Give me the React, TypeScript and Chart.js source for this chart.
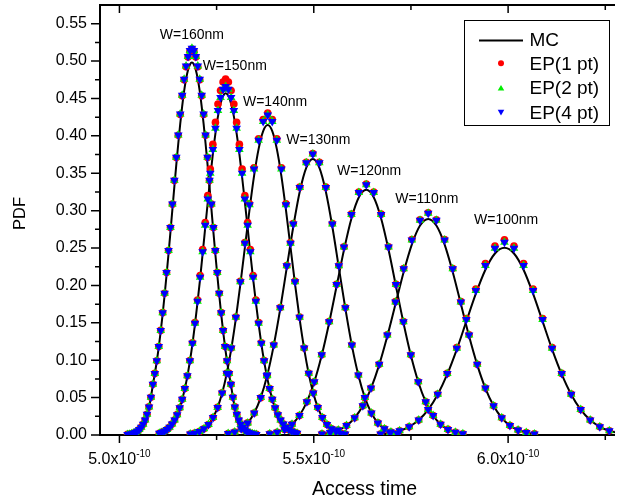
import React, { useEffect, useRef } from 'react';
import { Chart, registerables } from 'chart.js';

Chart.register(...registerables);

// Access time in units of 1e-10 s (axis ticks read 5.0x10^-10, 5.5x10^-10, 6.0x10^-10)
const w160Time = [5.0208, 5.0259, 5.0309, 5.0359, 5.0409, 5.0459, 5.0510, 5.0560, 5.0610, 5.0660, 5.0710, 5.0761, 5.0811, 5.0861, 5.0911, 5.0961, 5.1012, 5.1062, 5.1112, 5.1162, 5.1212, 5.1263, 5.1313, 5.1363, 5.1413, 5.1463, 5.1514, 5.1564, 5.1614, 5.1664, 5.1714, 5.1765, 5.1815, 5.1865, 5.1915, 5.1965, 5.2016, 5.2066, 5.2116, 5.2166, 5.2216, 5.2267, 5.2317, 5.2367, 5.2417, 5.2467, 5.2518, 5.2568, 5.2618, 5.2668, 5.2718, 5.2769, 5.2819, 5.2869, 5.2919, 5.2969, 5.3020, 5.3070, 5.3120, 5.3170, 5.3220, 5.3271, 5.3321, 5.3371, 5.3421, 5.3471, 5.3522];
const w160MC = [0.0008, 0.0011, 0.0016, 0.0023, 0.0034, 0.0049, 0.0072, 0.0102, 0.0144, 0.0201, 0.0276, 0.0376, 0.0505, 0.0674, 0.0819, 0.0986, 0.1174, 0.1385, 0.1617, 0.1869, 0.2139, 0.2424, 0.2719, 0.3021, 0.3322, 0.3616, 0.3898, 0.4160, 0.4395, 0.4597, 0.4761, 0.4881, 0.4955, 0.4980, 0.4955, 0.4881, 0.4761, 0.4597, 0.4395, 0.4160, 0.3898, 0.3616, 0.3322, 0.3021, 0.2719, 0.2424, 0.2139, 0.1869, 0.1617, 0.1385, 0.1174, 0.0986, 0.0819, 0.0674, 0.0505, 0.0376, 0.0276, 0.0201, 0.0144, 0.0102, 0.0072, 0.0049, 0.0034, 0.0023, 0.0016, 0.0011, 0.0008];
const w160EP1 = [0.0008, 0.0011, 0.0016, 0.0023, 0.0034, 0.0049, 0.0072, 0.0102, 0.0144, 0.0201, 0.0276, 0.0376, 0.0505, 0.0677, 0.0824, 0.0993, 0.1184, 0.1399, 0.1636, 0.1895, 0.2173, 0.2468, 0.2774, 0.3087, 0.3402, 0.3711, 0.4008, 0.4286, 0.4535, 0.4750, 0.4925, 0.5053, 0.5133, 0.5160, 0.5133, 0.5053, 0.4925, 0.4750, 0.4535, 0.4286, 0.4008, 0.3711, 0.3402, 0.3087, 0.2774, 0.2468, 0.2173, 0.1895, 0.1636, 0.1399, 0.1184, 0.0993, 0.0824, 0.0677, 0.0505, 0.0376, 0.0276, 0.0201, 0.0144, 0.0102, 0.0072, 0.0049, 0.0034, 0.0023, 0.0016, 0.0011, 0.0008];
const w160EP2 = [0.0008, 0.0011, 0.0016, 0.0023, 0.0034, 0.0049, 0.0072, 0.0102, 0.0144, 0.0201, 0.0276, 0.0376, 0.0505, 0.0677, 0.0824, 0.0993, 0.1184, 0.1399, 0.1636, 0.1895, 0.2173, 0.2468, 0.2774, 0.3089, 0.3405, 0.3715, 0.4013, 0.4292, 0.4542, 0.4758, 0.4934, 0.5063, 0.5143, 0.5170, 0.5143, 0.5063, 0.4934, 0.4758, 0.4542, 0.4292, 0.4013, 0.3715, 0.3405, 0.3089, 0.2774, 0.2468, 0.2173, 0.1895, 0.1636, 0.1399, 0.1184, 0.0993, 0.0824, 0.0677, 0.0505, 0.0376, 0.0276, 0.0201, 0.0144, 0.0102, 0.0072, 0.0049, 0.0034, 0.0023, 0.0016, 0.0011, 0.0008];
const w160EP4 = [0.0008, 0.0011, 0.0016, 0.0023, 0.0034, 0.0049, 0.0072, 0.0102, 0.0144, 0.0201, 0.0276, 0.0376, 0.0505, 0.0677, 0.0824, 0.0993, 0.1184, 0.1399, 0.1636, 0.1895, 0.2173, 0.2468, 0.2774, 0.3089, 0.3405, 0.3715, 0.4013, 0.4292, 0.4542, 0.4758, 0.4934, 0.5063, 0.5143, 0.5170, 0.5143, 0.5063, 0.4934, 0.4758, 0.4542, 0.4292, 0.4013, 0.3715, 0.3405, 0.3089, 0.2774, 0.2468, 0.2173, 0.1895, 0.1636, 0.1399, 0.1184, 0.0993, 0.0824, 0.0677, 0.0505, 0.0376, 0.0276, 0.0201, 0.0144, 0.0102, 0.0072, 0.0049, 0.0034, 0.0023, 0.0016, 0.0011, 0.0008];

const w150Time = [5.1026, 5.1091, 5.1157, 5.1223, 5.1288, 5.1354, 5.1419, 5.1485, 5.1551, 5.1616, 5.1682, 5.1748, 5.1813, 5.1879, 5.1944, 5.2010, 5.2076, 5.2141, 5.2207, 5.2273, 5.2338, 5.2404, 5.2470, 5.2535, 5.2601, 5.2666, 5.2732, 5.2803, 5.2873, 5.2944, 5.3015, 5.3086, 5.3156, 5.3227, 5.3298, 5.3368, 5.3439, 5.3510, 5.3581, 5.3651, 5.3722, 5.3793, 5.3864, 5.3934, 5.4005, 5.4076, 5.4146, 5.4217, 5.4288, 5.4359, 5.4429, 5.4500, 5.4571];
const w150MC = [0.0023, 0.0035, 0.0051, 0.0073, 0.0104, 0.0146, 0.0201, 0.0272, 0.0364, 0.0478, 0.0619, 0.0788, 0.0988, 0.1220, 0.1484, 0.1776, 0.2092, 0.2427, 0.2772, 0.3116, 0.3450, 0.3759, 0.4033, 0.4260, 0.4429, 0.4534, 0.4570, 0.4534, 0.4429, 0.4260, 0.4033, 0.3759, 0.3450, 0.3116, 0.2772, 0.2427, 0.2092, 0.1776, 0.1484, 0.1220, 0.0988, 0.0788, 0.0619, 0.0478, 0.0364, 0.0272, 0.0201, 0.0146, 0.0104, 0.0073, 0.0051, 0.0035, 0.0023];
const w150EP1 = [0.0023, 0.0035, 0.0051, 0.0073, 0.0104, 0.0146, 0.0201, 0.0272, 0.0364, 0.0478, 0.0622, 0.0793, 0.0996, 0.1233, 0.1503, 0.1804, 0.2131, 0.2479, 0.2841, 0.3203, 0.3557, 0.3886, 0.4180, 0.4425, 0.4607, 0.4721, 0.4760, 0.4721, 0.4607, 0.4425, 0.4180, 0.3886, 0.3557, 0.3203, 0.2841, 0.2479, 0.2131, 0.1804, 0.1503, 0.1233, 0.0996, 0.0793, 0.0622, 0.0478, 0.0364, 0.0272, 0.0201, 0.0146, 0.0104, 0.0073, 0.0051, 0.0035, 0.0023];
const w150EP2 = [0.0023, 0.0035, 0.0051, 0.0073, 0.0104, 0.0146, 0.0201, 0.0272, 0.0364, 0.0478, 0.0621, 0.0791, 0.0992, 0.1226, 0.1493, 0.1789, 0.2110, 0.2452, 0.2804, 0.3157, 0.3501, 0.3819, 0.4103, 0.4338, 0.4513, 0.4623, 0.4660, 0.4623, 0.4513, 0.4338, 0.4103, 0.3819, 0.3501, 0.3157, 0.2804, 0.2452, 0.2110, 0.1789, 0.1493, 0.1226, 0.0992, 0.0791, 0.0621, 0.0478, 0.0364, 0.0272, 0.0201, 0.0146, 0.0104, 0.0073, 0.0051, 0.0035, 0.0023];
const w150EP4 = [0.0023, 0.0035, 0.0051, 0.0073, 0.0104, 0.0146, 0.0201, 0.0272, 0.0364, 0.0478, 0.0621, 0.0791, 0.0992, 0.1226, 0.1493, 0.1789, 0.2110, 0.2452, 0.2804, 0.3157, 0.3501, 0.3819, 0.4103, 0.4338, 0.4513, 0.4623, 0.4660, 0.4623, 0.4513, 0.4338, 0.4103, 0.3819, 0.3501, 0.3157, 0.2804, 0.2452, 0.2110, 0.1789, 0.1493, 0.1226, 0.0992, 0.0791, 0.0621, 0.0478, 0.0364, 0.0272, 0.0201, 0.0146, 0.0104, 0.0073, 0.0051, 0.0035, 0.0023];

const w140Time = [5.1823, 5.1940, 5.2057, 5.2174, 5.2291, 5.2409, 5.2526, 5.2643, 5.2760, 5.2877, 5.2995, 5.3112, 5.3229, 5.3346, 5.3463, 5.3581, 5.3698, 5.3815, 5.3932, 5.4049, 5.4167, 5.4284, 5.4401, 5.4518, 5.4635, 5.4753, 5.4870, 5.4987, 5.5104, 5.5221, 5.5339, 5.5456, 5.5573, 5.5690, 5.5807];
const w140MC = [0.0013, 0.0025, 0.0046, 0.0082, 0.0141, 0.0233, 0.0369, 0.0561, 0.0820, 0.1152, 0.1556, 0.2018, 0.2514, 0.3010, 0.3462, 0.3826, 0.4063, 0.4145, 0.4063, 0.3826, 0.3462, 0.3010, 0.2514, 0.2018, 0.1556, 0.1152, 0.0820, 0.0561, 0.0369, 0.0233, 0.0141, 0.0082, 0.0046, 0.0025, 0.0013];
const w140EP1 = [0.0013, 0.0025, 0.0046, 0.0082, 0.0141, 0.0233, 0.0369, 0.0564, 0.0826, 0.1164, 0.1578, 0.2055, 0.2572, 0.3093, 0.3573, 0.3962, 0.4217, 0.4305, 0.4217, 0.3962, 0.3573, 0.3093, 0.2572, 0.2055, 0.1578, 0.1164, 0.0826, 0.0564, 0.0369, 0.0233, 0.0141, 0.0082, 0.0046, 0.0025, 0.0013];
const w140EP2 = [0.0013, 0.0025, 0.0046, 0.0082, 0.0141, 0.0233, 0.0369, 0.0563, 0.0825, 0.1162, 0.1574, 0.2049, 0.2563, 0.3080, 0.3556, 0.3941, 0.4193, 0.4280, 0.4193, 0.3941, 0.3556, 0.3080, 0.2563, 0.2049, 0.1574, 0.1162, 0.0825, 0.0563, 0.0369, 0.0233, 0.0141, 0.0082, 0.0046, 0.0025, 0.0013];
const w140EP4 = [0.0013, 0.0025, 0.0046, 0.0082, 0.0141, 0.0233, 0.0369, 0.0563, 0.0825, 0.1162, 0.1574, 0.2049, 0.2563, 0.3080, 0.3556, 0.3941, 0.4193, 0.4280, 0.4193, 0.3941, 0.3556, 0.3080, 0.2563, 0.2049, 0.1574, 0.1162, 0.0825, 0.0563, 0.0369, 0.0233, 0.0141, 0.0082, 0.0046, 0.0025, 0.0013];

const w130Time = [5.2798, 5.2965, 5.3133, 5.3300, 5.3468, 5.3635, 5.3803, 5.3970, 5.4138, 5.4305, 5.4473, 5.4640, 5.4808, 5.4975, 5.5143, 5.5310, 5.5478, 5.5645, 5.5813, 5.5980, 5.6148, 5.6315, 5.6483, 5.6650, 5.6818, 5.6985, 5.7153];
const w130MC = [0.0019, 0.0041, 0.0084, 0.0162, 0.0294, 0.0499, 0.0798, 0.1198, 0.1689, 0.2238, 0.2785, 0.3256, 0.3576, 0.3690, 0.3576, 0.3256, 0.2785, 0.2238, 0.1689, 0.1198, 0.0798, 0.0499, 0.0294, 0.0162, 0.0084, 0.0041, 0.0019];
const w130EP1 = [0.0019, 0.0041, 0.0084, 0.0162, 0.0294, 0.0499, 0.0801, 0.1206, 0.1704, 0.2265, 0.2827, 0.3314, 0.3646, 0.3765, 0.3646, 0.3314, 0.2827, 0.2265, 0.1704, 0.1206, 0.0801, 0.0499, 0.0294, 0.0162, 0.0084, 0.0041, 0.0019];
const w130EP2 = [0.0019, 0.0041, 0.0084, 0.0162, 0.0294, 0.0500, 0.0801, 0.1205, 0.1703, 0.2262, 0.2823, 0.3309, 0.3640, 0.3758, 0.3640, 0.3309, 0.2823, 0.2262, 0.1703, 0.1205, 0.0801, 0.0500, 0.0294, 0.0162, 0.0084, 0.0041, 0.0019];
const w130EP4 = [0.0019, 0.0041, 0.0084, 0.0162, 0.0294, 0.0500, 0.0801, 0.1205, 0.1703, 0.2262, 0.2823, 0.3309, 0.3640, 0.3758, 0.3640, 0.3309, 0.2823, 0.2262, 0.1703, 0.1205, 0.0801, 0.0500, 0.0294, 0.0162, 0.0084, 0.0041, 0.0019];

const w120Time = [5.3867, 5.4058, 5.4249, 5.4440, 5.4631, 5.4822, 5.5013, 5.5204, 5.5396, 5.5587, 5.5778, 5.5969, 5.6160, 5.6351, 5.6542, 5.6733, 5.6924, 5.7115, 5.7307, 5.7498, 5.7689, 5.7880, 5.8071, 5.8262, 5.8453, 5.8644, 5.8835];
const w120MC = [0.0017, 0.0036, 0.0075, 0.0144, 0.0261, 0.0444, 0.0709, 0.1065, 0.1502, 0.1989, 0.2476, 0.2895, 0.3179, 0.3280, 0.3179, 0.2895, 0.2476, 0.1989, 0.1502, 0.1065, 0.0709, 0.0444, 0.0261, 0.0144, 0.0075, 0.0036, 0.0017];
const w120EP1 = [0.0017, 0.0036, 0.0075, 0.0144, 0.0261, 0.0445, 0.0712, 0.1073, 0.1517, 0.2016, 0.2518, 0.2953, 0.3249, 0.3355, 0.3249, 0.2953, 0.2518, 0.2016, 0.1517, 0.1073, 0.0712, 0.0445, 0.0261, 0.0144, 0.0075, 0.0036, 0.0017];
const w120EP2 = [0.0017, 0.0036, 0.0075, 0.0144, 0.0261, 0.0445, 0.0712, 0.1072, 0.1516, 0.2013, 0.2514, 0.2948, 0.3243, 0.3348, 0.3243, 0.2948, 0.2514, 0.2013, 0.1516, 0.1072, 0.0712, 0.0445, 0.0261, 0.0144, 0.0075, 0.0036, 0.0017];
const w120EP4 = [0.0017, 0.0036, 0.0075, 0.0144, 0.0261, 0.0445, 0.0712, 0.1072, 0.1516, 0.2013, 0.2514, 0.2948, 0.3243, 0.3348, 0.3243, 0.2948, 0.2514, 0.2013, 0.1516, 0.1072, 0.0712, 0.0445, 0.0261, 0.0144, 0.0075, 0.0036, 0.0017];

const w110Time = [5.5211, 5.5421, 5.5631, 5.5842, 5.6052, 5.6262, 5.6472, 5.6683, 5.6893, 5.7103, 5.7313, 5.7524, 5.7734, 5.7944, 5.8154, 5.8365, 5.8575, 5.8785, 5.8995, 5.9206, 5.9416, 5.9626, 5.9836, 6.0047, 6.0257, 6.0467, 6.0677];
const w110MC = [0.0015, 0.0032, 0.0066, 0.0127, 0.0230, 0.0391, 0.0625, 0.0938, 0.1323, 0.1753, 0.2181, 0.2550, 0.2801, 0.2890, 0.2801, 0.2550, 0.2181, 0.1753, 0.1323, 0.0938, 0.0625, 0.0391, 0.0230, 0.0127, 0.0066, 0.0032, 0.0015];
const w110EP1 = [0.0015, 0.0032, 0.0066, 0.0127, 0.0230, 0.0392, 0.0629, 0.0946, 0.1340, 0.1783, 0.2227, 0.2614, 0.2878, 0.2972, 0.2878, 0.2614, 0.2227, 0.1783, 0.1340, 0.0946, 0.0629, 0.0392, 0.0230, 0.0127, 0.0066, 0.0032, 0.0015];
const w110EP2 = [0.0015, 0.0032, 0.0066, 0.0127, 0.0230, 0.0392, 0.0628, 0.0946, 0.1338, 0.1780, 0.2224, 0.2609, 0.2872, 0.2966, 0.2872, 0.2609, 0.2224, 0.1780, 0.1338, 0.0946, 0.0628, 0.0392, 0.0230, 0.0127, 0.0066, 0.0032, 0.0015];
const w110EP4 = [0.0015, 0.0032, 0.0066, 0.0127, 0.0230, 0.0392, 0.0628, 0.0946, 0.1338, 0.1780, 0.2224, 0.2609, 0.2872, 0.2966, 0.2872, 0.2609, 0.2224, 0.1780, 0.1338, 0.0946, 0.0628, 0.0392, 0.0230, 0.0127, 0.0066, 0.0032, 0.0015];

const w100Time = [5.6718, 5.6963, 5.7208, 5.7454, 5.7699, 5.7944, 5.8189, 5.8435, 5.8680, 5.8925, 5.9170, 5.9416, 5.9661, 5.9906, 6.0151, 6.0397, 6.0642, 6.0887, 6.1132, 6.1378, 6.1623, 6.1868, 6.2113, 6.2359, 6.2604, 6.2849, 6.3094];
const w100MC = [0.0013, 0.0028, 0.0057, 0.0110, 0.0199, 0.0339, 0.0542, 0.0813, 0.1146, 0.1519, 0.1890, 0.2210, 0.2427, 0.2504, 0.2427, 0.2210, 0.1890, 0.1519, 0.1146, 0.0813, 0.0542, 0.0339, 0.0199, 0.0110, 0.0057, 0.0028, 0.0013];
const w100EP1 = [0.0013, 0.0028, 0.0057, 0.0110, 0.0199, 0.0341, 0.0547, 0.0824, 0.1168, 0.1557, 0.1950, 0.2292, 0.2526, 0.2610, 0.2526, 0.2292, 0.1950, 0.1557, 0.1168, 0.0824, 0.0547, 0.0341, 0.0199, 0.0110, 0.0057, 0.0028, 0.0013];
const w100EP2 = [0.0013, 0.0028, 0.0057, 0.0110, 0.0199, 0.0340, 0.0545, 0.0821, 0.1161, 0.1546, 0.1932, 0.2268, 0.2497, 0.2579, 0.2497, 0.2268, 0.1932, 0.1546, 0.1161, 0.0821, 0.0545, 0.0340, 0.0199, 0.0110, 0.0057, 0.0028, 0.0013];
const w100EP4 = [0.0013, 0.0028, 0.0057, 0.0110, 0.0199, 0.0340, 0.0545, 0.0821, 0.1161, 0.1546, 0.1932, 0.2268, 0.2497, 0.2579, 0.2497, 0.2268, 0.1932, 0.1546, 0.1161, 0.0821, 0.0545, 0.0340, 0.0199, 0.0110, 0.0057, 0.0028, 0.0013];

// curve annotations (text, anchor in data coordinates)
const curveLabels = ['W=160nm', 'W=150nm', 'W=140nm', 'W=130nm', 'W=120nm', 'W=110nm', 'W=100nm'];
const curveLabelTime = [5.1037, 5.2141, 5.3178, 5.4292, 5.5599, 5.7095, 5.9123];
const curveLabelPdf = [0.5296, 0.4879, 0.4402, 0.3891, 0.3482, 0.3104, 0.2822];

// axes
const xMin = 4.95;
const xMax = 6.275;
const yMin = 0;
const yMax = 0.575;
const yTickValues = [0, 0.05, 0.1, 0.15, 0.2, 0.25, 0.3, 0.35, 0.4, 0.45, 0.5, 0.55];
const yTickLabels = ['0.00', '0.05', '0.10', '0.15', '0.20', '0.25', '0.30', '0.35', '0.40', '0.45', '0.50', '0.55'];
const yMinorTickValues = [0.025, 0.075, 0.125, 0.175, 0.225, 0.275, 0.325, 0.375, 0.425, 0.475, 0.525];
const xTickValues = [5.0, 5.5, 6.0];
const xTickLabels = ['5.0x10', '5.5x10', '6.0x10'];
const xTickExponent = '-10';
const xMinorTickValues = [5.25, 5.75, 6.25];
const xTitle = 'Access time';
const yTitle = 'PDF';
const legendLabels = ['MC', 'EP(1 pt)', 'EP(2 pt)', 'EP(4 pt)'];

const FONT = 'Arial, "Liberation Sans", Helvetica, sans-serif';
const RED = '#ff0000';
const GREEN = '#00ee00';
const BLUE = '#0000ff';

function drawMarker(ctx: any, style: string, x: number, y: number, r: number, color: string) {
  ctx.fillStyle = color;
  ctx.beginPath();
  if (style === 'circle') {
    ctx.arc(x, y, r, 0, Math.PI * 2);
  } else {
    let rad = style === 'up' ? 0 : Math.PI;
    ctx.moveTo(x + Math.sin(rad) * r, y - Math.cos(rad) * r);
    rad += (2 * Math.PI) / 3;
    ctx.lineTo(x + Math.sin(rad) * r, y - Math.cos(rad) * r);
    rad += (2 * Math.PI) / 3;
    ctx.lineTo(x + Math.sin(rad) * r, y - Math.cos(rad) * r);
    ctx.closePath();
  }
  ctx.fill();
}

const overlayPlugin = {
  id: 'pdfOverlay',
  beforeDatasetsDraw(chart: any) {
    const { ctx, chartArea: a, scales } = chart;
    const xs = scales.x;
    const ys = scales.y;
    ctx.save();
    ctx.strokeStyle = '#000';
    ctx.lineWidth = 2;
    ctx.beginPath();
    ctx.moveTo(a.left - 1, a.top);
    ctx.lineTo(a.right, a.top);
    ctx.moveTo(a.left, a.top - 1);
    ctx.lineTo(a.left, a.bottom + 1);
    ctx.moveTo(a.left - 1, a.bottom);
    ctx.lineTo(a.right, a.bottom);
    ctx.stroke();
    ctx.lineWidth = 1.5;
    ctx.beginPath();
    for (const v of yTickValues) {
      const p = ys.getPixelForValue(v);
      ctx.moveTo(a.left - 9, p);
      ctx.lineTo(a.left, p);
    }
    for (const v of yMinorTickValues) {
      const p = ys.getPixelForValue(v);
      ctx.moveTo(a.left - 5, p);
      ctx.lineTo(a.left, p);
    }
    for (const v of xTickValues) {
      const p = xs.getPixelForValue(v);
      ctx.moveTo(p, a.bottom);
      ctx.lineTo(p, a.bottom + 8);
      ctx.moveTo(p, a.top);
      ctx.lineTo(p, a.top + 8);
    }
    for (const v of xMinorTickValues) {
      const p = xs.getPixelForValue(v);
      ctx.moveTo(p, a.bottom);
      ctx.lineTo(p, a.bottom + 5);
      ctx.moveTo(p, a.top);
      ctx.lineTo(p, a.top + 5);
    }
    ctx.stroke();
    ctx.restore();
  },
  afterDraw(chart: any) {
    const { ctx, chartArea: a, scales } = chart;
    const xs = scales.x;
    const ys = scales.y;
    ctx.save();
    ctx.fillStyle = '#000';

    // y tick labels
    ctx.font = `16px ${FONT}`;
    ctx.textAlign = 'right';
    ctx.textBaseline = 'middle';
    yTickValues.forEach((v, i) => {
      ctx.fillText(yTickLabels[i], a.left - 13, ys.getPixelForValue(v));
    });

    // x tick labels with superscript exponent
    ctx.textAlign = 'left';
    ctx.textBaseline = 'alphabetic';
    xTickValues.forEach((v, i) => {
      const p = xs.getPixelForValue(v);
      ctx.font = `16px ${FONT}`;
      const w1 = ctx.measureText(xTickLabels[i]).width;
      ctx.font = `10px ${FONT}`;
      const w2 = ctx.measureText(xTickExponent).width;
      const start = p - (w1 + w2) / 2;
      ctx.font = `16px ${FONT}`;
      ctx.fillText(xTickLabels[i], start, a.bottom + 28.5);
      ctx.font = `10px ${FONT}`;
      ctx.fillText(xTickExponent, start + w1, a.bottom + 21.5);
    });

    // axis titles
    ctx.font = `19.5px ${FONT}`;
    ctx.textAlign = 'center';
    ctx.fillText(xTitle, 364.5, 495);
    ctx.save();
    ctx.translate(25, 213.5);
    ctx.rotate(-Math.PI / 2);
    ctx.font = `16.5px ${FONT}`;
    ctx.fillText(yTitle, 0, 0);
    ctx.restore();

    // curve labels
    ctx.font = `14px ${FONT}`;
    ctx.textAlign = 'left';
    curveLabels.forEach((t, i) => {
      ctx.fillText(t, xs.getPixelForValue(curveLabelTime[i]), ys.getPixelForValue(curveLabelPdf[i]));
    });

    // legend
    ctx.strokeStyle = '#000';
    ctx.lineWidth = 1;
    ctx.strokeRect(464.5, 20.5, 145, 105);
    ctx.lineWidth = 2;
    ctx.beginPath();
    ctx.moveTo(479, 40.5);
    ctx.lineTo(523, 40.5);
    ctx.stroke();
    drawMarker(ctx, 'circle', 501, 63.3, 3, RED);
    drawMarker(ctx, 'up', 501, 88.7, 3.8, GREEN);
    drawMarker(ctx, 'down', 501, 111.7, 3.8, BLUE);
    ctx.fillStyle = '#000';
    ctx.font = `19px ${FONT}`;
    ctx.textAlign = 'left';
    const baselines = [46, 69.5, 94, 118.5];
    legendLabels.forEach((t, i) => ctx.fillText(t, 529.5, baselines[i]));
    ctx.restore();
  },
};

const curves = [
  { time: w160Time, mc: w160MC, ep1: w160EP1, ep2: w160EP2, ep4: w160EP4 },
  { time: w150Time, mc: w150MC, ep1: w150EP1, ep2: w150EP2, ep4: w150EP4 },
  { time: w140Time, mc: w140MC, ep1: w140EP1, ep2: w140EP2, ep4: w140EP4 },
  { time: w130Time, mc: w130MC, ep1: w130EP1, ep2: w130EP2, ep4: w130EP4 },
  { time: w120Time, mc: w120MC, ep1: w120EP1, ep2: w120EP2, ep4: w120EP4 },
  { time: w110Time, mc: w110MC, ep1: w110EP1, ep2: w110EP2, ep4: w110EP4 },
  { time: w100Time, mc: w100MC, ep1: w100EP1, ep2: w100EP2, ep4: w100EP4 },
];

function pts(xs: number[], ys: number[]) {
  return xs.map((x, i) => ({ x, y: ys[i] }));
}

function buildDatasets() {
  const ds: any[] = [];
  curves.forEach((c) => {
    ds.push({
      label: legendLabels[0],
      data: pts(c.time, c.mc),
      showLine: true,
      borderColor: '#000',
      borderWidth: 2,
      pointRadius: 0,
      cubicInterpolationMode: 'monotone',
      order: 4,
    });
    ds.push({
      label: legendLabels[1],
      data: pts(c.time, c.ep1),
      showLine: false,
      pointStyle: 'circle',
      pointRadius: 3.8,
      pointBackgroundColor: RED,
      pointBorderColor: RED,
      pointBorderWidth: 0,
      order: 3,
    });
    ds.push({
      label: legendLabels[2],
      data: pts(c.time, c.ep2),
      showLine: false,
      pointStyle: 'triangle',
      pointRadius: 5,
      pointBackgroundColor: GREEN,
      pointBorderColor: GREEN,
      pointBorderWidth: 0,
      order: 2,
    });
    ds.push({
      label: legendLabels[3],
      data: pts(c.time, c.ep4),
      showLine: false,
      pointStyle: 'triangle',
      pointRotation: 180,
      pointRadius: 5,
      pointBackgroundColor: BLUE,
      pointBorderColor: BLUE,
      pointBorderWidth: 0,
      order: 1,
    });
  });
  return ds;
}

export default function App() {
  const ref = useRef<HTMLCanvasElement | null>(null);
  useEffect(() => {
    if (!ref.current) return;
    const chart = new Chart(ref.current, {
      type: 'scatter',
      data: { datasets: buildDatasets() },
      options: {
        animation: false,
        responsive: false,
        devicePixelRatio: 1,
        events: [],
        layout: { padding: { left: 100, right: 0, top: 4, bottom: 66 } },
        scales: {
          x: { type: 'linear', min: xMin, max: xMax, display: false },
          y: { type: 'linear', min: yMin, max: yMax, display: false },
        },
        plugins: {
          legend: { display: false },
          tooltip: { enabled: false },
        },
      },
      plugins: [overlayPlugin],
    } as any);
    return () => chart.destroy();
  }, []);
  return (
    <canvas
      ref={ref}
      width={620}
      height={501}
      style={{ position: 'absolute', left: 0, top: 0, background: '#fff' }}
    />
  );
}
